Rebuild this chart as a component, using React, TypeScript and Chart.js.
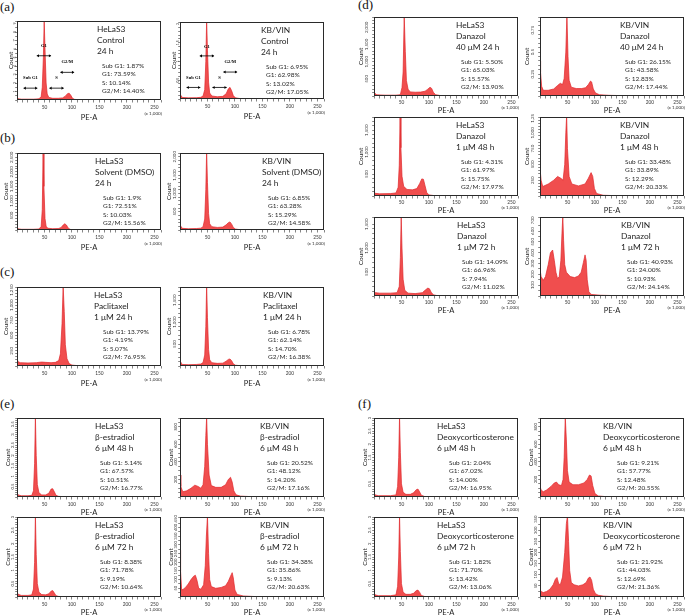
import React, { useEffect, useRef } from "react";
import { Chart, registerables } from "chart.js";

Chart.register(...registerables);

type Pt = [number, number];

const SANS = "Lato, 'Liberation Sans', Arial, sans-serif";
const SERIF = "'Liberation Serif', 'DejaVu Serif', serif";
const X_MAX = 262.144;
const X_TICK_LABELS = [50, 100, 150, 200, 250];
const FILL = "rgba(240, 78, 78, 1)";
const EDGE = "#e0262b";

// ---------- histogram data: [PE-A (x 1,000), count] ----------
const aHela: Pt[] = [[0, 0.3], [2, 0.15], [8, 0.1], [30, 0.1], [40, 0.14], [44, 0.4], [46, 1.5], [48, 5], [49.5, 9.4], [51, 6], [53, 2], [55, 0.7], [58, 0.3], [65, 0.2], [75, 0.2], [83, 0.25], [88, 0.45], [92, 0.75], [95, 0.8], [98, 0.55], [101, 0.2], [105, 0.07], [115, 0.03], [140, 0.01], [262, 0]];
const aKb: Pt[] = [[0, 0.1], [1.5, 0.08], [5, 0.04], [15, 0.03], [30, 0.035], [38, 0.045], [42, 0.08], [45, 0.25], [47, 1.0], [48.5, 2.1], [50, 1.3], [52, 0.45], [54, 0.16], [58, 0.08], [68, 0.06], [78, 0.07], [84, 0.14], [88, 0.27], [91, 0.31], [94, 0.22], [97, 0.09], [101, 0.03], [110, 0.01], [130, 0.005], [262, 0]];
const bHela: Pt[] = [[0, 80], [2, 40], [8, 25], [30, 25], [40, 35], [44, 120], [46, 700], [47.5, 2700], [49, 1500], [51, 400], [53, 130], [56, 60], [65, 45], [75, 50], [80, 80], [84, 170], [87, 215], [90, 170], [93, 70], [97, 20], [105, 8], [130, 3], [262, 0]];
const bKb: Pt[] = [[0, 110], [1.5, 80], [5, 45], [15, 35], [30, 40], [38, 50], [42, 90], [45, 300], [47, 1100], [48.5, 2150], [50, 1300], [52, 450], [54, 170], [58, 90], [68, 70], [78, 80], [84, 140], [88, 200], [91, 220], [94, 160], [97, 70], [101, 25], [110, 8], [130, 3], [262, 0]];
const cHela: Pt[] = [[0, 120], [2, 70], [6, 55], [20, 50], [35, 55], [45, 65], [52, 60], [62, 55], [70, 60], [76, 90], [79, 200], [82, 700], [84, 1320], [86, 900], [88, 350], [91, 120], [95, 40], [100, 15], [110, 6], [130, 3], [262, 0]];
const cKb: Pt[] = [[0, 90], [1.5, 60], [5, 35], [15, 30], [30, 35], [38, 45], [42, 80], [45, 250], [47, 900], [48.5, 1850], [50, 1100], [52, 380], [54, 140], [58, 75], [68, 60], [78, 65], [84, 110], [88, 150], [91, 160], [94, 120], [97, 50], [101, 18], [110, 6], [130, 2], [262, 0]];
const dHela40: Pt[] = [[0, 120], [2, 70], [5, 35], [20, 25], [40, 25], [48, 40], [51, 250], [53, 700], [55, 2350], [57, 1300], [59, 450], [62, 200], [66, 120], [75, 110], [85, 115], [93, 140], [98, 200], [102, 255], [105, 220], [108, 110], [112, 40], [120, 15], [140, 5], [262, 0]];
const dKb40: Pt[] = [[0, 0.4], [1, 0.27], [3, 0.11], [6, 0.065], [15, 0.065], [25, 0.08], [32, 0.12], [37, 0.145], [41, 0.13], [44, 0.2], [47, 0.5], [49, 0.93], [51, 0.45], [53, 0.18], [57, 0.1], [66, 0.085], [76, 0.085], [83, 0.095], [88, 0.13], [92, 0.17], [94, 0.16], [97, 0.08], [101, 0.035], [108, 0.015], [125, 0.008], [150, 0.004], [262, 0]];
const dHela48: Pt[] = [[0, 80], [3, 60], [10, 50], [30, 55], [40, 70], [44, 200], [46, 700], [47.5, 1820], [49, 1100], [51, 450], [54, 220], [60, 150], [70, 140], [78, 170], [83, 280], [87, 390], [90, 380], [93, 230], [96, 80], [100, 25], [110, 8], [130, 3], [262, 0]];
const dKb48: Pt[] = [[0, 440], [2, 250], [5, 150], [15, 190], [25, 250], [32, 310], [38, 280], [42, 250], [45, 500], [47, 1000], [48.5, 1270], [50, 750], [53, 310], [58, 190], [70, 160], [82, 190], [88, 280], [93, 370], [96, 310], [99, 120], [103, 40], [115, 12], [140, 4], [262, 0]];
const dHela72: Pt[] = [[0, 90], [3, 70], [10, 60], [30, 60], [42, 70], [46, 200], [48, 800], [49.5, 1670], [51, 1000], [53, 350], [56, 120], [62, 60], [75, 50], [88, 70], [94, 130], [98, 165], [101, 150], [104, 80], [108, 25], [115, 8], [140, 3], [262, 0]];
const dKb72: Pt[] = [[0, 250], [2, 180], [6, 145], [10, 180], [15, 290], [19, 400], [23, 425], [26, 330], [29, 220], [32, 160], [35, 180], [38, 330], [40, 580], [41.5, 740], [43, 510], [45, 290], [48, 220], [55, 180], [63, 170], [70, 185], [75, 220], [79, 310], [82, 380], [84, 330], [86, 150], [89, 40], [93, 15], [110, 7], [140, 3], [262, 0]];
const eHela48: Pt[] = [[0, 0.2], [2, 0.1], [8, 0.06], [20, 0.06], [27, 0.08], [30, 0.3], [32, 1.6], [33.5, 3.85], [35, 2.0], [37, 0.6], [40, 0.2], [45, 0.1], [52, 0.1], [58, 0.18], [62, 0.38], [65, 0.4], [68, 0.25], [71, 0.08], [76, 0.03], [90, 0.01], [262, 0]];
const eKb48: Pt[] = [[0, 250], [1.5, 120], [5, 60], [12, 70], [20, 100], [27, 135], [33, 120], [38, 100], [42, 140], [45, 350], [47, 700], [48.5, 910], [50, 600], [53, 250], [57, 130], [65, 110], [75, 110], [83, 140], [88, 200], [92, 225], [95, 170], [98, 70], [102, 25], [110, 10], [130, 4], [262, 0]];
const eHela72: Pt[] = [[0, 0.2], [2, 0.1], [8, 0.06], [20, 0.06], [27, 0.08], [30, 0.3], [32, 1.3], [33.5, 3.05], [35, 1.6], [37, 0.5], [40, 0.18], [45, 0.09], [52, 0.08], [58, 0.12], [62, 0.22], [65, 0.24], [68, 0.15], [71, 0.05], [76, 0.02], [90, 0.01], [262, 0]];
const eKb72: Pt[] = [[0, 270], [1, 150], [3, 40], [6, 45], [10, 55], [15, 75], [20, 100], [25, 120], [28, 125], [31, 95], [34, 50], [38, 45], [43, 70], [46, 180], [48, 350], [50, 465], [52, 250], [54, 100], [57, 60], [65, 50], [75, 55], [83, 65], [88, 90], [92, 120], [95, 140], [97, 110], [100, 40], [104, 15], [115, 6], [140, 2], [262, 0]];
const fHela48: Pt[] = [[0, 0.15], [2, 0.08], [8, 0.05], [30, 0.05], [40, 0.08], [43, 0.4], [45, 1.5], [46.5, 3.05], [48, 1.7], [50, 0.5], [53, 0.18], [58, 0.1], [66, 0.1], [72, 0.16], [77, 0.28], [80, 0.3], [83, 0.2], [86, 0.07], [92, 0.02], [110, 0.005], [262, 0]];
const fKb48: Pt[] = [[0, 120], [2, 80], [6, 60], [12, 80], [20, 120], [26, 160], [30, 170], [34, 140], [39, 130], [42, 200], [44, 450], [46, 910], [48, 650], [50, 300], [53, 170], [60, 140], [70, 140], [80, 160], [86, 200], [90, 250], [93, 240], [96, 130], [100, 40], [106, 12], [120, 4], [262, 0]];
const fHela72: Pt[] = [[0, 0.15], [2, 0.08], [8, 0.05], [30, 0.05], [40, 0.08], [43, 0.4], [45, 1.5], [46.5, 3.05], [48, 1.7], [50, 0.5], [53, 0.18], [58, 0.1], [66, 0.1], [72, 0.14], [77, 0.24], [80, 0.26], [83, 0.18], [86, 0.06], [92, 0.02], [110, 0.005], [262, 0]];
const fKb72: Pt[] = [[0, 35], [2, 25], [6, 20], [12, 25], [18, 35], [24, 55], [28, 80], [31, 88], [34, 60], [37, 55], [41, 90], [45, 200], [48, 330], [50, 365], [52, 250], [54, 120], [57, 65], [62, 55], [70, 50], [78, 55], [84, 65], [88, 85], [91, 90], [94, 75], [97, 35], [101, 15], [106, 8], [115, 4], [130, 2], [262, 0]];

// ---------- y-axis tick labels ----------
const yA1 = [1, 2, 3, 4, 5, 6, 7, 8, 9];
const yA2 = [0.5, 1, 1.5, 2];
const yB = [500, 1000, 1500, 2000, 2500];
const yB2 = [500, 1000, 1500, 2000];
const yC1 = [250, 500, 750, 1000, 1250];
const yC2 = [500, 1000, 1500];
const yD1 = [500, 1000, 1500, 2000];
const yD2 = [0.25, 0.5, 0.75];
const yD3 = [500, 1000, 1500];
const yD4 = [250, 500, 750, 1000, 1250];
const yD5 = [500, 1000, 1500];
const yD6 = [100, 200, 300, 400, 500, 600, 700];
const yE1 = [0.5, 1, 1.5, 2, 2.5, 3, 3.5];
const yE2 = [200, 400, 600, 800];
const yE3 = [0.5, 1, 1.5, 2, 2.5, 3];
const yE4 = [50, 100, 150, 200, 250, 300, 350, 400, 450];
const yF1 = [0.5, 1, 1.5, 2, 2.5, 3];
const yF2 = [200, 400, 600, 800];
const yF3 = [0.5, 1, 1.5, 2, 2.5, 3];
const yF4 = [50, 100, 150, 200, 250, 300, 350];

// ---------- panel texts ----------
const sA1 = ["HeLaS3", "Control", "24 h"];
const tA1 = ["Sub G1: 1.87%", "G1: 73.59%", "S: 10.14%", "G2/M: 14.40%"];
const sA2 = ["KB/VIN", "Control", "24 h"];
const tA2 = ["Sub G1: 6.95%", "G1: 62.98%", "S: 13.02%", "G2/M: 17.05%"];
const sB1 = ["HeLaS3", "Solvent (DMSO)", "24 h"];
const tB1 = ["Sub G1: 1.9%", "G1: 72.51%", "S: 10.03%", "G2/M: 15.56%"];
const sB2 = ["KB/VIN", "Solvent (DMSO)", "24 h"];
const tB2 = ["Sub G1: 6.85%", "G1: 63.28%", "S: 15.29%", "G2/M: 14.58%"];
const sC1 = ["HeLaS3", "Paclitaxel", "1 μM 24 h"];
const tC1 = ["Sub G1: 13.79%", "G1: 4.19%", "S: 5.07%", "G2/M: 76.95%"];
const sC2 = ["KB/VIN", "Paclitaxel", "1 μM 24 h"];
const tC2 = ["Sub G1: 6.78%", "G1: 62.14%", "S: 14.70%", "G2/M: 16.38%"];
const sD1 = ["HeLaS3", "Danazol", "40 μM 24 h"];
const tD1 = ["Sub G1: 5.50%", "G1: 65.03%", "S: 15.57%", "G2/M: 13.90%"];
const sD2 = ["KB/VIN", "Danazol", "40 μM 24 h"];
const tD2 = ["Sub G1: 26.15%", "G1: 43.58%", "S: 12.83%", "G2/M: 17.44%"];
const sD3 = ["HeLaS3", "Danazol", "1 μM 48 h"];
const tD3 = ["Sub G1: 4.31%", "G1: 61.97%", "S: 15.75%", "G2/M: 17.97%"];
const sD4 = ["KB/VIN", "Danazol", "1 μM 48 h"];
const tD4 = ["Sub G1: 33.48%", "G1: 33.89%", "S: 12.29%", "G2/M: 20.33%"];
const sD5 = ["HeLaS3", "Danazol", "1 μM 72 h"];
const tD5 = ["Sub G1: 14.09%", "G1: 66.96%", "S: 7.94%", "G2/M: 11.02%"];
const sD6 = ["KB/VIN", "Danazol", "1 μM 72 h"];
const tD6 = ["Sub G1: 40.93%", "G1: 24.00%", "S: 10.93%", "G2/M: 24.14%"];
const sE1 = ["HeLaS3", "β-estradiol", "6 μM 48 h"];
const tE1 = ["Sub G1: 5.14%", "G1: 67.57%", "S: 10.51%", "G2/M: 16.77%"];
const sE2 = ["KB/VIN", "β-estradiol", "6 μM 48 h"];
const tE2 = ["Sub G1: 20.52%", "G1: 48.12%", "S: 14.20%", "G2/M: 17.16%"];
const sE3 = ["HeLaS3", "β-estradiol", "6 μM 72 h"];
const tE3 = ["Sub G1: 8.38%", "G1: 71.78%", "S: 9.19%", "G2/M: 10.64%"];
const sE4 = ["KB/VIN", "β-estradiol", "6 μM 72 h"];
const tE4 = ["Sub G1: 34.38%", "G1: 35.86%", "S: 9.13%", "G2/M: 20.63%"];
const sF1 = ["HeLaS3", "Deoxycorticosterone", "6 μM 48 h"];
const tF1 = ["Sub G1: 2.04%", "G1: 67.02%", "S: 14.00%", "G2/M: 16.95%"];
const sF2 = ["KB/VIN", "Deoxycorticosterone", "6 μM 48 h"];
const tF2 = ["Sub G1: 9.21%", "G1: 57.77%", "S: 12.48%", "G2/M: 20.55%"];
const sF3 = ["HeLaS3", "Deoxycorticosterone", "6 μM 72 h"];
const tF3 = ["Sub G1: 1.82%", "G1: 71.70%", "S: 13.42%", "G2/M: 13.06%"];
const sF4 = ["KB/VIN", "Deoxycorticosterone", "6 μM 72 h"];
const tF4 = ["Sub G1: 21.92%", "G1: 44.03%", "S: 12.69%", "G2/M: 21.36%"];

// phase-gate arrows of panel (a): [from, to] on the PE-A axis
const gateSub: Pt = [12, 37];
const gateG1: Pt = [36, 62];
const gateS: Pt = [59, 85];
const gateG2: Pt = [79, 104];

type Style = { titleGap: number; labGap: number; labFont: number; titleFont: number; B: number; tickPad: number; kOff: number };
const ST: Record<string, Style> = {
  a: { titleGap: 6.5, labGap: 2.6, labFont: 3.6, titleFont: 6.5, B: 22, tickPad: 2.5, kOff: 14 },
  b: { titleGap: 11.5, labGap: 5, labFont: 4.5, titleFont: 6.5, B: 22, tickPad: 2.5, kOff: 14 },
  d: { titleGap: 13, labGap: 7, labFont: 4.5, titleFont: 6.5, B: 19, tickPad: 1.5, kOff: 12 },
  e: { titleGap: 9, labGap: 4, labFont: 4.2, titleFont: 6.5, B: 20, tickPad: 2, kOff: 13 },
};

type PanelDef = {
  left: number; top: number; w: number; h: number; st: string;
  data: Pt[]; yMax: number; yStep: number; yLabels: number[];
  sample: string[]; stats: string[]; tx: number; sx: number; gates?: boolean;
};

const PANELS: PanelDef[] = [
  { left: 17, top: 21, w: 144, h: 79, st: "a", data: aHela, yMax: 9.3, yStep: 0.5, yLabels: yA1, sample: sA1, stats: tA1, tx: 80, sx: 85, gates: true },
  { left: 180, top: 22, w: 144, h: 77, st: "a", data: aKb, yMax: 2.05, yStep: 0.1, yLabels: yA2, sample: sA2, stats: tA2, tx: 81, sx: 86, gates: true },
  { left: 17, top: 153, w: 144, h: 77, st: "b", data: bHela, yMax: 2650, yStep: 100, yLabels: yB, sample: sB1, stats: tB1, tx: 78, sx: 86 },
  { left: 180, top: 153, w: 144, h: 77, st: "b", data: bKb, yMax: 2100, yStep: 100, yLabels: yB2, sample: sB2, stats: tB2, tx: 82, sx: 88 },
  { left: 17, top: 287, w: 144, h: 79, st: "b", data: cHela, yMax: 1300, yStep: 50, yLabels: yC1, sample: sC1, stats: tC1, tx: 77, sx: 86 },
  { left: 180, top: 287, w: 144, h: 79, st: "b", data: cKb, yMax: 1800, yStep: 100, yLabels: yC2, sample: sC2, stats: tC2, tx: 83, sx: 88 },
  { left: 374, top: 17, w: 144, h: 79, st: "d", data: dHela40, yMax: 2300, yStep: 100, yLabels: yD1, sample: sD1, stats: tD1, tx: 82, sx: 87 },
  { left: 540, top: 17, w: 144, h: 79, st: "d", data: dKb40, yMax: 0.9, yStep: 0.05, yLabels: yD2, sample: sD2, stats: tD2, tx: 80, sx: 85 },
  { left: 374, top: 117, w: 144, h: 79, st: "d", data: dHela48, yMax: 1800, yStep: 100, yLabels: yD3, sample: sD3, stats: tD3, tx: 82, sx: 87 },
  { left: 540, top: 117, w: 144, h: 79, st: "d", data: dKb48, yMax: 1250, yStep: 50, yLabels: yD4, sample: sD4, stats: tD4, tx: 80, sx: 85 },
  { left: 374, top: 217, w: 144, h: 79, st: "d", data: dHela72, yMax: 1650, yStep: 100, yLabels: yD5, sample: sD5, stats: tD5, tx: 83, sx: 88 },
  { left: 540, top: 217, w: 144, h: 79, st: "d", data: dKb72, yMax: 730, yStep: 50, yLabels: yD6, sample: sD6, stats: tD6, tx: 81, sx: 87 },
  { left: 17, top: 418, w: 144, h: 79, st: "e", data: eHela48, yMax: 3.8, yStep: 0.1, yLabels: yE1, sample: sE1, stats: tE1, tx: 78, sx: 83 },
  { left: 180, top: 418, w: 144, h: 79, st: "e", data: eKb48, yMax: 900, yStep: 50, yLabels: yE2, sample: sE2, stats: tE2, tx: 80, sx: 87 },
  { left: 17, top: 517, w: 144, h: 80, st: "e", data: eHela72, yMax: 3.0, yStep: 0.1, yLabels: yE3, sample: sE3, stats: tE3, tx: 78, sx: 83 },
  { left: 180, top: 517, w: 144, h: 80, st: "e", data: eKb72, yMax: 460, yStep: 25, yLabels: yE4, sample: sE4, stats: tE4, tx: 80, sx: 87 },
  { left: 374, top: 418, w: 144, h: 79, st: "e", data: fHela48, yMax: 3.0, yStep: 0.1, yLabels: yF1, sample: sF1, stats: tF1, tx: 63, sx: 75 },
  { left: 540, top: 418, w: 144, h: 79, st: "e", data: fKb48, yMax: 900, yStep: 50, yLabels: yF2, sample: sF2, stats: tF2, tx: 63, sx: 77 },
  { left: 374, top: 517, w: 144, h: 80, st: "e", data: fHela72, yMax: 3.0, yStep: 0.1, yLabels: yF3, sample: sF3, stats: tF3, tx: 63, sx: 75 },
  { left: 540, top: 517, w: 144, h: 80, st: "e", data: fKb72, yMax: 360, yStep: 25, yLabels: yF4, sample: sF4, stats: tF4, tx: 63, sx: 77 },
];

const LETTERS: { t: string; x: number; y: number }[] = [
  { t: "(a)", x: 0, y: 7 },
  { t: "(b)", x: 0, y: 138 },
  { t: "(c)", x: 0, y: 272 },
  { t: "(e)", x: 0, y: 404 },
  { t: "(d)", x: 358, y: 5 },
  { t: "(f)", x: 358, y: 404 },
];

const T_PAD = 3;
const R_PAD = 3;

function fmt(v: number) {
  return v.toLocaleString("en-US");
}

function drawGate(ctx: CanvasRenderingContext2D, x1: number, x2: number, y: number) {
  ctx.beginPath();
  ctx.moveTo(x1, y);
  ctx.lineTo(x2, y);
  ctx.stroke();
  const a = 2.2;
  ctx.beginPath();
  ctx.moveTo(x1, y);
  ctx.lineTo(x1 + a, y - a * 0.7);
  ctx.lineTo(x1 + a, y + a * 0.7);
  ctx.closePath();
  ctx.fill();
  ctx.beginPath();
  ctx.moveTo(x2, y);
  ctx.lineTo(x2 - a, y - a * 0.7);
  ctx.lineTo(x2 - a, y + a * 0.7);
  ctx.closePath();
  ctx.fill();
}

function Panel({ p }: { p: PanelDef }) {
  const ref = useRef<HTMLCanvasElement>(null);
  const st = ST[p.st];
  const L = Math.round(st.titleGap + st.titleFont * 0.6);
  const W = p.w + L + R_PAD;
  const H = p.h + T_PAD + st.B;
  useEffect(() => {
    const decor = {
      id: "decor",
      afterDraw(chart: any) {
        const { ctx, chartArea: ca, scales } = chart;
        ctx.save();
        ctx.strokeStyle = "#2a2a2a";
        ctx.lineWidth = 1;
        ctx.strokeRect(ca.left + 0.5, ca.top + 0.5, ca.right - ca.left - 1, ca.bottom - ca.top - 1);
        ctx.fillStyle = "#333";
        ctx.font = `${st.labFont}px ${SANS}`;
        ctx.textAlign = "center";
        ctx.textBaseline = "middle";
        for (const v of p.yLabels) {
          const y = scales.y.getPixelForValue(v);
          ctx.save();
          ctx.translate(ca.left - st.labGap, y);
          ctx.rotate(-Math.PI / 2);
          ctx.fillText(fmt(v), 0, 0);
          ctx.restore();
        }
        ctx.font = `4.6px ${SANS}`;
        ctx.textAlign = "right";
        ctx.fillText("(x 1,000)", ca.right + 1, ca.bottom + st.kOff);
        ctx.fillStyle = "#1e1e1e";
        ctx.textAlign = "left";
        ctx.font = `8.4px ${SANS}`;
        p.sample.forEach((s, i) => ctx.fillText(s, ca.left + p.tx, ca.top + 8.5 + i * 10.7));
        ctx.font = `6.5px ${SANS}`;
        ctx.fillStyle = "#2a2a2a";
        p.stats.forEach((s, i) => ctx.fillText(s, ca.left + p.sx, ca.top + 45 + i * 8.4));
        if (p.gates) {
          const hh = ca.bottom - ca.top;
          const X = (v: number) => scales.x.getPixelForValue(v);
          ctx.strokeStyle = "#000";
          ctx.fillStyle = "#000";
          ctx.lineWidth = 0.8;
          ctx.font = `bold 4.6px ${SERIF}`;
          ctx.textAlign = "center";
          const gates: [Pt, number, number, string][] = [
            [gateSub, 0.85, 0.72, "Sub G1"],
            [gateG1, 0.44, 0.32, "G1"],
            [gateS, 0.85, 0.72, "S"],
            [gateG2, 0.65, 0.52, "G2/M"],
          ];
          for (const [g, ay, ty, label] of gates) {
            drawGate(ctx, X(g[0]), X(g[1]), ca.top + ay * hh);
            ctx.fillText(label, (X(g[0]) + X(g[1])) / 2, ca.top + ty * hh);
          }
        }
        ctx.restore();
      },
    };
    const chart = new Chart(ref.current as HTMLCanvasElement, {
      type: "line",
      data: {
        datasets: [
          {
            data: p.data.map(([x, y]) => ({ x, y })),
            fill: "origin",
            backgroundColor: FILL,
            borderColor: EDGE,
            borderWidth: 0.7,
            pointRadius: 0,
            tension: 0,
          },
        ],
      },
      options: {
        animation: false,
        responsive: false,
        events: [],
        layout: { padding: { top: T_PAD, right: R_PAD, left: 0, bottom: 0 } },
        plugins: { legend: { display: false }, tooltip: { enabled: false } },
        scales: {
          x: {
            type: "linear",
            min: 0,
            max: X_MAX,
            border: { display: false },
            grid: { drawOnChartArea: false, drawTicks: true, tickLength: 2.5, color: "#333", lineWidth: 0.6 },
            ticks: {
              stepSize: 10,
              autoSkip: false,
              maxRotation: 0,
              padding: st.tickPad,
              color: "#333",
              font: { size: 4.8, family: SANS },
              callback: (v: any) => (X_TICK_LABELS.includes(Number(v)) ? String(v) : ""),
            },
            title: { display: true, text: "PE-A", color: "#222", font: { size: 7.5, family: SANS }, padding: 0 },
            afterFit: (s: any) => {
              s.height = st.B;
              s.paddingLeft = 0;
              s.paddingRight = 0;
            },
          },
          y: {
            min: 0,
            max: p.yMax,
            border: { display: false },
            grid: { drawOnChartArea: false, drawTicks: true, tickLength: 1.8, color: "#333", lineWidth: 0.6 },
            ticks: { stepSize: p.yStep, autoSkip: false, callback: () => "", padding: 0 },
            title: { display: true, text: "Count", color: "#222", font: { size: st.titleFont, family: SANS }, padding: 0 },
            afterFit: (s: any) => {
              s.width = L;
              s.paddingTop = 0;
              s.paddingBottom = 0;
            },
          },
        },
      } as any,
      plugins: [decor],
    });
    return () => chart.destroy();
  }, []);
  return (
    <canvas
      ref={ref}
      width={W}
      height={H}
      style={{ position: "absolute", left: p.left - L, top: p.top - T_PAD, width: W, height: H }}
    />
  );
}

export default function App() {
  return (
    <div style={{ position: "fixed", left: 0, top: 0, width: 685, height: 615, background: "#fff", overflow: "hidden" }}>
      {LETTERS.map((l) => (
        <div
          key={l.t}
          style={{ position: "absolute", left: l.x, top: l.y - 8, fontFamily: SERIF, fontSize: 13, lineHeight: "16px", color: "#111" }}
        >
          {l.t}
        </div>
      ))}
      {PANELS.map((p, i) => (
        <Panel key={i} p={p} />
      ))}
    </div>
  );
}
